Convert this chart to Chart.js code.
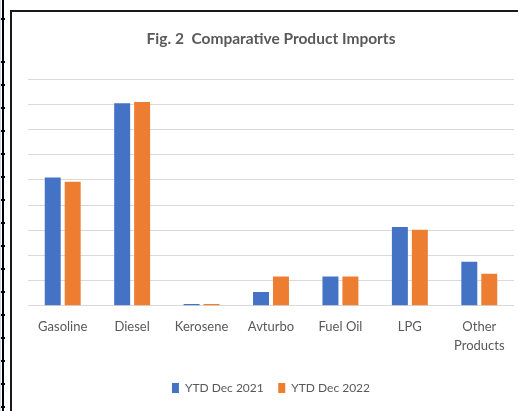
<!DOCTYPE html>
<html>
<head>
<meta charset="utf-8">
<script src="https://cdn.jsdelivr.net/npm/chart.js@4"></script>
<style>
  html, body { margin: 0; padding: 0; background: #fff; }
  body { width: 518px; height: 411px; position: relative; overflow: hidden; }
  #wrap { position: absolute; left: 0; top: 0; width: 518px; height: 411px; }
  /* sheet edge on the far left */
  #edge {
    position: absolute; left: 0; top: 0; width: 5px; height: 411px;
    background:
      linear-gradient(to right, #cfdcec 0, #cfdcec 1px, transparent 1px),
      repeating-linear-gradient(to bottom, transparent 0, transparent 21px, #000 21px, #000 23px);
    background-position: 0 0, 0 40px;
  }
  #edge::after {
    content: ""; position: absolute; left: 2px; top: 0; width: 2px; height: 411px; background: #000;
  }
  /* chart frame */
  #frame {
    position: absolute; left: 10px; top: 10px; width: 520px; height: 420px;
    border-left: 2px solid #1a1a1a; border-top: 2px solid #1a1a1a;
    pointer-events: none;
  }
</style>
</head>
<body>
<div id="wrap"><canvas id="Chart" width="518" height="411"></canvas></div>
<div id="edge"></div>
<div id="frame"></div>
<script>
const products = ['Gasoline', 'Diesel', 'Kerosene', 'Avturbo', 'Fuel Oil', 'LPG', ['Other', 'Products']];
const ytdDec2021 = [5.09, 8.04, 0.07, 0.55, 1.16, 3.13, 1.75];
const ytdDec2022 = [4.92, 8.09, 0.07, 1.16, 1.16, 3.02, 1.27];

const textColor = '#595959';
const fontFamily = 'Lato, "Open Sans", sans-serif';

const ctx = document.getElementById('Chart').getContext('2d');

new Chart(ctx, {
  type: 'bar',
  data: {
    labels: products,
    datasets: [
      {
        label: 'YTD Dec 2021',
        data: ytdDec2021,
        backgroundColor: '#4472C4',
        categoryPercentage: 0.575,
        barPercentage: 0.8
      },
      {
        label: 'YTD Dec 2022',
        data: ytdDec2022,
        backgroundColor: '#ED7D31',
        categoryPercentage: 0.575,
        barPercentage: 0.8
      }
    ]
  },
  options: {
    responsive: false,
    animation: false,
    layout: {
      padding: { left: 28, right: 4, top: 30, bottom: 7 }
    },
    plugins: {
      title: {
        display: true,
        text: 'Fig. 2  Comparative Product Imports',
        color: textColor,
        font: { family: fontFamily, size: 15.5, weight: 'bold' },
        padding: { top: 0, bottom: 30.4 }
      },
      legend: {
        position: 'bottom',
        labels: {
          color: textColor,
          font: { family: fontFamily, size: 12 },
          boxWidth: 7,
          boxHeight: 10,
          padding: 14.5
        }
      },
      tooltip: { enabled: false }
    },
    scales: {
      x: {
        grid: { display: false, drawTicks: false },
        border: { display: false },
        ticks: {
          color: textColor,
          font: { family: fontFamily, size: 13, lineHeight: 1.45 },
          padding: 12,
          maxRotation: 0,
          autoSkip: false
        }
      },
      y: {
        min: 0,
        max: 9,
        ticks: { display: false, stepSize: 1 },
        border: { display: false },
        grid: { color: '#d9d9d9', lineWidth: 1, drawTicks: false }
      }
    }
  }
});
</script>
</body>
</html>
